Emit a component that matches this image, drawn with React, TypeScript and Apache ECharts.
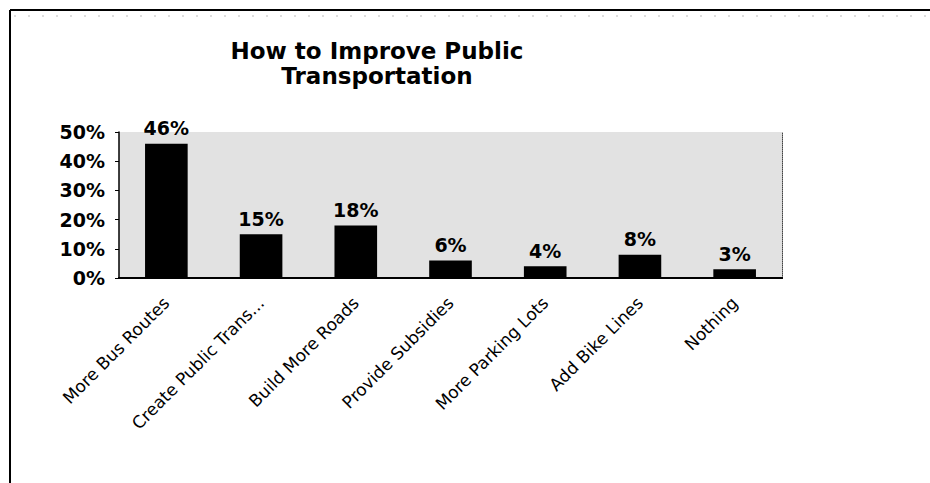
import React, { useEffect, useRef } from "react";
import * as echarts from "echarts";

const categories = [
  "More Bus Routes",
  "Create Public Trans...",
  "Build More Roads",
  "Provide Subsidies",
  "More Parking Lots",
  "Add Bike Lines",
  "Nothing",
];
const values = [46, 15, 18, 6, 4, 8, 3];
const titleText = "How to Improve Public\nTransportation";

const FONT = "'DejaVu Sans', Verdana, sans-serif";

export default function App() {
  const ref = useRef<HTMLDivElement>(null);
  useEffect(() => {
    if (!ref.current) return;
    const chart = echarts.init(ref.current, null, { renderer: "svg" });
    chart.setOption({
      animation: false,
      backgroundColor: "#ffffff",
      title: {
        text: titleText,
        left: 372,
        top: 33,
        textAlign: "center",
        textStyle: {
          fontFamily: FONT,
          fontWeight: "bold",
          fontSize: 23,
          lineHeight: 25,
          color: "#000",
        },
      },
      grid: {
        left: 119,
        right: 148,
        top: 132,
        bottom: 205,
        show: true,
        backgroundColor: "#e2e2e2",
        borderWidth: 0,
      },
      xAxis: [
        {
          type: "category",
          data: categories,
          axisLine: { show: true, lineStyle: { color: "#000", width: 2 } },
          axisTick: { show: false },
          axisLabel: {
            interval: 0,
            rotate: 45,
            margin: 22,
            fontFamily: FONT,
            fontSize: 17,
            color: "#000",
          },
        },
        {
          type: "category",
          data: categories,
          position: "top",
          axisLine: { show: true, lineStyle: { color: "#000", width: 2 } },
          axisTick: { show: false },
          axisLabel: { show: false },
        },
      ],
      yAxis: [
        {
          type: "value",
          min: 0,
          max: 50,
          interval: 10,
          splitLine: { show: false },
          axisLine: { show: true, lineStyle: { color: "#000", width: 1.5 } },
          axisTick: { show: true, inside: false, length: 4, lineStyle: { color: "#000" } },
          axisLabel: {
            formatter: "{value}%",
            margin: 14,
            fontFamily: FONT,
            fontSize: 19,
            fontWeight: "bold",
            color: "#000",
          },
        },
        {
          type: "value",
          min: 0,
          max: 50,
          interval: 10,
          position: "right",
          splitLine: { show: false },
          axisLine: { show: true, lineStyle: { color: "#444", width: 1, type: "dotted" } },
          axisTick: { show: false },
          axisLabel: { show: false },
        },
      ],
      series: [
        {
          type: "bar",
          data: values,
          barWidth: "45%",
          itemStyle: { color: "#000" },
          label: {
            show: true,
            position: "top",
            distance: 6,
            formatter: "{c}%",
            fontFamily: FONT,
            fontSize: 19,
            fontWeight: "bold",
            color: "#000",
          },
        },
      ],
      graphic: [
        {
          type: "line",
          shape: { x1: 10, y1: 10, x2: 930, y2: 10 },
          style: { stroke: "#000", lineWidth: 2 },
        },
        {
          type: "line",
          shape: { x1: 10, y1: 10, x2: 10, y2: 483 },
          style: { stroke: "#000", lineWidth: 2 },
        },
        {
          type: "line",
          shape: { x1: 14, y1: 16, x2: 930, y2: 16 },
          style: { stroke: "#bbb", lineWidth: 1, lineDash: [2, 12] },
        },
      ],
    });
    return () => chart.dispose();
  }, []);
  return (
    <div
      ref={ref}
      style={{ position: "fixed", left: 0, top: 0, width: 930, height: 483 }}
    />
  );
}
